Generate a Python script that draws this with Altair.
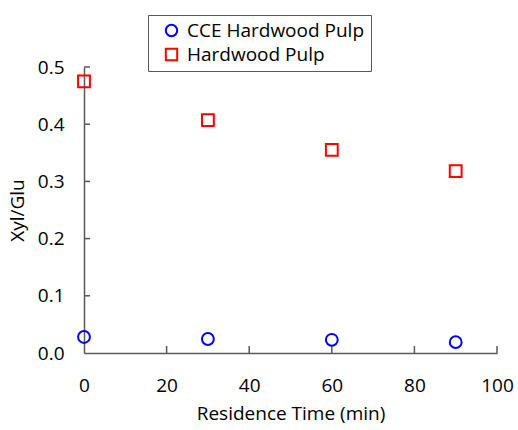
import altair as alt
import pandas as pd

times = [0, 30, 60, 90]
cce = [0.028, 0.0245, 0.023, 0.019]
hw = [0.475, 0.407, 0.355, 0.318]
series_names = ["CCE Hardwood Pulp", "Hardwood Pulp"]
x_ticks = [20, 40, 60, 80, 100]
y_ticks = [0.1, 0.2, 0.3, 0.4, 0.5]

rows = []
for t, v in zip(times, cce):
    rows.append({"time": t, "ratio": v, "series": series_names[0]})
for t, v in zip(times, hw):
    rows.append({"time": t, "ratio": v, "series": series_names[1]})
df = pd.DataFrame(rows)

W, H = 413, 286
FONT = "Open Sans"
AX = "#595959"
FS = 19

xscale = alt.Scale(domain=[0, 100], nice=False, zero=False)
yscale = alt.Scale(domain=[0, 0.5], nice=False)

points = alt.Chart(df).mark_point(filled=False, strokeWidth=2, size=140, opacity=1).encode(
    x=alt.X("time:Q", scale=xscale,
            axis=alt.Axis(title="Residence Time (min)", values=[0, 20, 40, 60, 80, 100],
                          ticks=False, labelPadding=23, domainColor=AX, domainWidth=1.5,
                          labelFontSize=FS, labelFont=FONT, labelColor="black", labelFlush=False,
                          titleFontSize=FS, titleFont=FONT, titleFontWeight="normal",
                          titleColor="black", titlePadding=9, grid=False, format="d")),
    y=alt.Y("ratio:Q", scale=yscale,
            axis=alt.Axis(title="Xyl/Glu", values=[0, 0.1, 0.2, 0.3, 0.4, 0.5], format=".1f",
                          ticks=False, labelPadding=20, domainColor=AX, domainWidth=1.5,
                          labelFontSize=FS, labelFont=FONT, labelColor="black", labelFlush=False,
                          titleFontSize=FS, titleFont=FONT, titleFontWeight="normal",
                          titleColor="black", titlePadding=10, grid=False)),
    color=alt.Color("series:N", scale=alt.Scale(domain=series_names, range=["#0000FF", "#FF0000"]),
                    legend=alt.Legend(title=None, orient="none", legendX=64, legendY=-52,
                                      strokeColor=AX, padding=6, labelFontSize=FS, labelFont=FONT,
                                      labelColor="black", symbolOffset=8, labelOffset=6,
                                      symbolSize=130, symbolStrokeWidth=2, rowPadding=3,
                                      symbolFillColor="white", labelLimit=300, offset=0)),
    shape=alt.Shape("series:N", scale=alt.Scale(domain=series_names, range=["circle", "square"]),
                    legend=None),
)

xt = alt.Chart(pd.DataFrame({"v": x_ticks})).mark_rule(color=AX, strokeWidth=1.5).encode(
    x=alt.X("v:Q", scale=xscale), y=alt.value(H), y2=alt.value(H - 7))
yt = alt.Chart(pd.DataFrame({"v": y_ticks})).mark_rule(color=AX, strokeWidth=1.5).encode(
    y=alt.Y("v:Q", scale=yscale), x=alt.value(0), x2=alt.value(6))

chart = alt.layer(xt, yt, points).properties(
    width=W, height=H,
    autosize=alt.AutoSizeParams(type="none"),
    padding={"left": 84, "top": 67, "right": 21, "bottom": 77},
).configure(background="white").configure_view(stroke=None, strokeWidth=0)

chart.save("out.html", embed_options={"renderer": "svg", "actions": False})
